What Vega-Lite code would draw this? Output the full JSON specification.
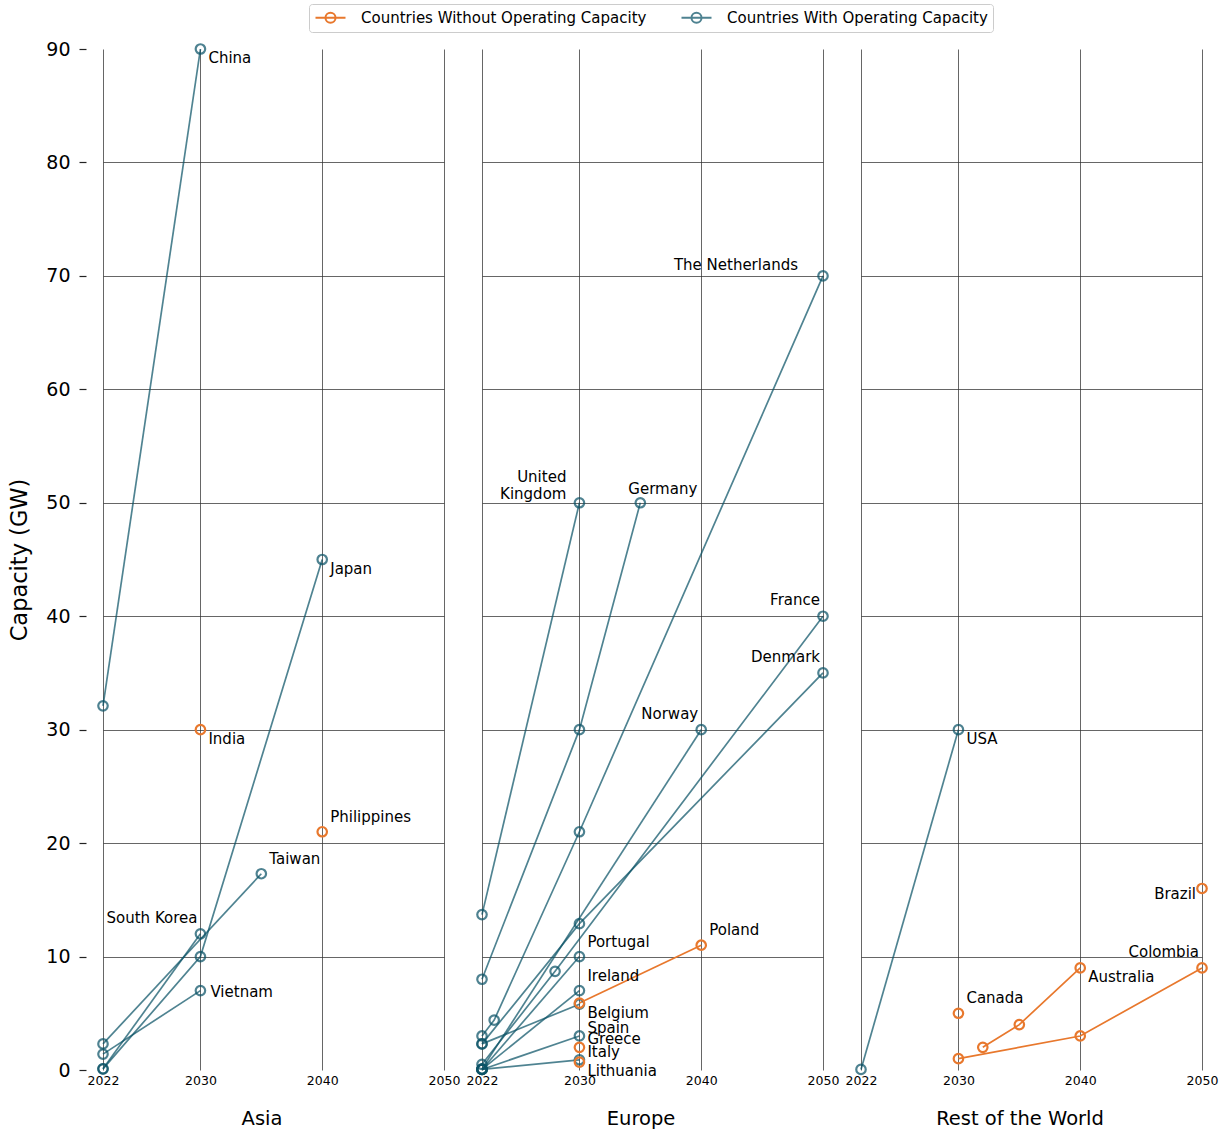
{
  "$schema": "https://vega.github.io/schema/vega-lite/v6.json",
  "background": "white",
  "padding": {"left": 8, "top": 3, "right": 5, "bottom": 5},
  "bounds": "flush",
  "spacing": 38,
  "config": {
    "font": "DejaVu Sans",
    "view": {"stroke": null},
    "text": {"font": "DejaVu Sans", "fontSize": 15, "color": "#000000"},
    "axisX": {
      "labelFontSize": 12.5,
      "labelColor": "#000000",
      "labelFlush": false,
      "labelPadding": 4,
      "ticks": false,
      "domain": false,
      "grid": true,
      "gridColor": "#333333",
      "gridOpacity": 0.75,
      "gridWidth": 1,
      "titleFontSize": 19.5,
      "titleFontWeight": "normal",
      "titleColor": "#000000",
      "titlePadding": 23,
      "titleX": 158.5
    },
    "axisY": {
      "domain": false,
      "grid": true,
      "gridColor": "#333333",
      "gridWidth": 1
    }
  },
  "resolve": {"scale": {"color": "shared", "opacity": "shared"}, "legend": {"color": "shared"}},
  "data": {
    "values": [
      {"region": "Asia", "country": "China", "group": "Countries With Operating Capacity", "year": 2022, "value": 32.1},
      {"region": "Asia", "country": "China", "group": "Countries With Operating Capacity", "year": 2030, "value": 90, "label": "China"},
      {"region": "Asia", "country": "India", "group": "Countries Without Operating Capacity", "year": 2030, "value": 30, "label": "India"},
      {"region": "Asia", "country": "Japan", "group": "Countries With Operating Capacity", "year": 2022, "value": 0.1},
      {"region": "Asia", "country": "Japan", "group": "Countries With Operating Capacity", "year": 2030, "value": 10},
      {"region": "Asia", "country": "Japan", "group": "Countries With Operating Capacity", "year": 2040, "value": 45, "label": "Japan"},
      {"region": "Asia", "country": "Philippines", "group": "Countries Without Operating Capacity", "year": 2040, "value": 21, "label": "Philippines"},
      {"region": "Asia", "country": "Taiwan", "group": "Countries With Operating Capacity", "year": 2022, "value": 2.3},
      {"region": "Asia", "country": "Taiwan", "group": "Countries With Operating Capacity", "year": 2035, "value": 17.3, "label": "Taiwan"},
      {"region": "Asia", "country": "South Korea", "group": "Countries With Operating Capacity", "year": 2022, "value": 0.1},
      {"region": "Asia", "country": "South Korea", "group": "Countries With Operating Capacity", "year": 2030, "value": 12, "label": "South Korea"},
      {"region": "Asia", "country": "Vietnam", "group": "Countries With Operating Capacity", "year": 2022, "value": 1.4},
      {"region": "Asia", "country": "Vietnam", "group": "Countries With Operating Capacity", "year": 2030, "value": 7, "label": "Vietnam"},

      {"region": "Europe", "country": "United Kingdom", "group": "Countries With Operating Capacity", "year": 2022, "value": 13.7},
      {"region": "Europe", "country": "United Kingdom", "group": "Countries With Operating Capacity", "year": 2030, "value": 50, "label": "United Kingdom"},
      {"region": "Europe", "country": "Germany", "group": "Countries With Operating Capacity", "year": 2022, "value": 8},
      {"region": "Europe", "country": "Germany", "group": "Countries With Operating Capacity", "year": 2030, "value": 30},
      {"region": "Europe", "country": "Germany", "group": "Countries With Operating Capacity", "year": 2035, "value": 50, "label": "Germany"},
      {"region": "Europe", "country": "The Netherlands", "group": "Countries With Operating Capacity", "year": 2022, "value": 3},
      {"region": "Europe", "country": "The Netherlands", "group": "Countries With Operating Capacity", "year": 2023, "value": 4.4},
      {"region": "Europe", "country": "The Netherlands", "group": "Countries With Operating Capacity", "year": 2030, "value": 21},
      {"region": "Europe", "country": "The Netherlands", "group": "Countries With Operating Capacity", "year": 2050, "value": 70, "label": "The Netherlands"},
      {"region": "Europe", "country": "France", "group": "Countries With Operating Capacity", "year": 2022, "value": 0.5},
      {"region": "Europe", "country": "France", "group": "Countries With Operating Capacity", "year": 2028, "value": 8.7},
      {"region": "Europe", "country": "France", "group": "Countries With Operating Capacity", "year": 2050, "value": 40, "label": "France"},
      {"region": "Europe", "country": "Denmark", "group": "Countries With Operating Capacity", "year": 2022, "value": 2.3},
      {"region": "Europe", "country": "Denmark", "group": "Countries With Operating Capacity", "year": 2030, "value": 12.9},
      {"region": "Europe", "country": "Denmark", "group": "Countries With Operating Capacity", "year": 2050, "value": 35, "label": "Denmark"},
      {"region": "Europe", "country": "Norway", "group": "Countries With Operating Capacity", "year": 2022, "value": 0.1},
      {"region": "Europe", "country": "Norway", "group": "Countries With Operating Capacity", "year": 2040, "value": 30, "label": "Norway"},
      {"region": "Europe", "country": "Belgium", "group": "Countries With Operating Capacity", "year": 2022, "value": 2.3},
      {"region": "Europe", "country": "Belgium", "group": "Countries With Operating Capacity", "year": 2030, "value": 5.8, "label": "Belgium"},
      {"region": "Europe", "country": "Portugal", "group": "Countries With Operating Capacity", "year": 2022, "value": 0.05},
      {"region": "Europe", "country": "Portugal", "group": "Countries With Operating Capacity", "year": 2030, "value": 10, "label": "Portugal"},
      {"region": "Europe", "country": "Ireland", "group": "Countries With Operating Capacity", "year": 2022, "value": 0.05},
      {"region": "Europe", "country": "Ireland", "group": "Countries With Operating Capacity", "year": 2030, "value": 7, "label": "Ireland"},
      {"region": "Europe", "country": "Spain", "group": "Countries With Operating Capacity", "year": 2022, "value": 0.05},
      {"region": "Europe", "country": "Spain", "group": "Countries With Operating Capacity", "year": 2030, "value": 3, "label": "Spain"},
      {"region": "Europe", "country": "Italy", "group": "Countries With Operating Capacity", "year": 2022, "value": 0.05},
      {"region": "Europe", "country": "Italy", "group": "Countries With Operating Capacity", "year": 2030, "value": 0.9, "label": "Italy"},
      {"region": "Europe", "country": "Poland", "group": "Countries Without Operating Capacity", "year": 2030, "value": 5.9},
      {"region": "Europe", "country": "Poland", "group": "Countries Without Operating Capacity", "year": 2040, "value": 11, "label": "Poland"},
      {"region": "Europe", "country": "Greece", "group": "Countries Without Operating Capacity", "year": 2030, "value": 2, "label": "Greece"},
      {"region": "Europe", "country": "Lithuania", "group": "Countries Without Operating Capacity", "year": 2030, "value": 0.7, "label": "Lithuania"},

      {"region": "Rest of the World", "country": "USA", "group": "Countries With Operating Capacity", "year": 2022, "value": 0.05},
      {"region": "Rest of the World", "country": "USA", "group": "Countries With Operating Capacity", "year": 2030, "value": 30, "label": "USA"},
      {"region": "Rest of the World", "country": "Canada", "group": "Countries Without Operating Capacity", "year": 2030, "value": 5, "label": "Canada"},
      {"region": "Rest of the World", "country": "Australia", "group": "Countries Without Operating Capacity", "year": 2032, "value": 2},
      {"region": "Rest of the World", "country": "Australia", "group": "Countries Without Operating Capacity", "year": 2035, "value": 4},
      {"region": "Rest of the World", "country": "Australia", "group": "Countries Without Operating Capacity", "year": 2040, "value": 9, "label": "Australia"},
      {"region": "Rest of the World", "country": "Colombia", "group": "Countries Without Operating Capacity", "year": 2030, "value": 1},
      {"region": "Rest of the World", "country": "Colombia", "group": "Countries Without Operating Capacity", "year": 2040, "value": 3},
      {"region": "Rest of the World", "country": "Colombia", "group": "Countries Without Operating Capacity", "year": 2050, "value": 9, "label": "Colombia"},
      {"region": "Rest of the World", "country": "Brazil", "group": "Countries Without Operating Capacity", "year": 2050, "value": 16, "label": "Brazil"}
    ]
  },
  "hconcat": [
    {
      "width": 341,
      "height": 1021,
      "transform": [{"filter": "datum.region === 'Asia'"}],
      "encoding": {
        "x": {"field": "year", "type": "quantitative", "scale": {"domain": [2022, 2050], "nice": false, "zero": false}, "axis": {"title": "Asia", "values": [2022, 2030, 2040, 2050], "format": "d"}},
        "y": {
          "field": "value", "type": "quantitative", "scale": {"domain": [0, 90], "nice": false},
          "axis": {
            "values": [0, 10, 20, 30, 40, 50, 60, 70, 80, 90],
            "gridOpacity": {"condition": {"test": "datum.value === 0 || datum.value === 90", "value": 0}, "value": 0.75},
            "title": "Capacity (GW)", "titleFontSize": 22.5, "titleFontWeight": "normal", "titleColor": "#000000", "titlePadding": 14,
            "labelFontSize": 19, "labelColor": "#000000", "labelPadding": 9,
            "ticks": true, "tickSize": 7, "tickColor": "#222222", "tickWidth": 1.2, "offset": 17
          }
        }
      },
      "layer": [
        {
          "mark": {"type": "line", "strokeWidth": 1.7},
          "encoding": {
            "detail": {"field": "country"},
            "color": {
              "field": "group", "type": "nominal",
              "scale": {"domain": ["Countries Without Operating Capacity", "Countries With Operating Capacity"], "range": ["#e8782d", "#0b5367"]},
              "legend": {
                "title": null, "orient": "none", "legendX": 206, "legendY": -45, "direction": "horizontal",
                "strokeColor": "#cccccc", "fillColor": "#ffffff", "padding": 5, "cornerRadius": 3,
                "labelFontSize": 15, "labelFont": "DejaVu Sans", "labelColor": "#000000", "labelLimit": 500,
                "labelOffset": 22, "columnPadding": 30,
                "symbolType": "M-2,0L2,0M0.67,0A0.67,0.67,0,1,1,-0.67,0A0.67,0.67,0,1,1,0.67,0",
                "symbolSize": 225, "symbolOffset": 8, "symbolStrokeWidth": 2, "symbolFillColor": "transparent", "symbolOpacity": 1
              }
            },
            "opacity": {"field": "group", "type": "nominal", "scale": {"domain": ["Countries Without Operating Capacity", "Countries With Operating Capacity"], "range": [1, 0.72]}, "legend": null}
          }
        },
        {
          "mark": {"type": "point", "shape": "circle", "filled": false, "size": 90, "strokeWidth": 2.2},
          "encoding": {"color": {"field": "group", "type": "nominal"}, "opacity": {"field": "group", "type": "nominal", "legend": null}}
        },
        {
          "transform": [{"filter": {"field": "country", "oneOf": ["China", "India", "Japan"]}}, {"filter": "isValid(datum.label)"}],
          "mark": {"type": "text", "align": "left", "baseline": "middle", "dx": 8, "dy": 9},
          "encoding": {"text": {"field": "label"}}
        },
        {
          "transform": [{"filter": {"field": "country", "oneOf": ["Vietnam"]}}, {"filter": "isValid(datum.label)"}],
          "mark": {"type": "text", "align": "left", "baseline": "middle", "dx": 10, "dy": 1},
          "encoding": {"text": {"field": "label"}}
        },
        {
          "transform": [{"filter": {"field": "country", "oneOf": ["Philippines", "Taiwan"]}}, {"filter": "isValid(datum.label)"}],
          "mark": {"type": "text", "align": "left", "baseline": "middle", "dx": 8, "dy": -15},
          "encoding": {"text": {"field": "label"}}
        },
        {
          "transform": [{"filter": {"field": "country", "oneOf": ["South Korea"]}}, {"filter": "isValid(datum.label)"}],
          "mark": {"type": "text", "align": "right", "baseline": "middle", "dx": -3, "dy": -16},
          "encoding": {"text": {"field": "label"}}
        }
      ]
    },
    {
      "width": 341,
      "height": 1021,
      "transform": [{"filter": "datum.region === 'Europe'"}],
      "encoding": {
        "x": {"field": "year", "type": "quantitative", "scale": {"domain": [2022, 2050], "nice": false, "zero": false}, "axis": {"title": "Europe", "values": [2022, 2030, 2040, 2050], "format": "d"}},
        "y": {
          "field": "value", "type": "quantitative", "scale": {"domain": [0, 90], "nice": false},
          "axis": {
            "values": [0, 10, 20, 30, 40, 50, 60, 70, 80, 90],
            "gridOpacity": {"condition": {"test": "datum.value === 0 || datum.value === 90", "value": 0}, "value": 0.75},
            "title": null, "labels": false, "ticks": false
          }
        }
      },
      "layer": [
        {
          "mark": {"type": "line", "strokeWidth": 1.7},
          "encoding": {
            "detail": {"field": "country"},
            "color": {"field": "group", "type": "nominal"},
            "opacity": {"field": "group", "type": "nominal", "legend": null}
          }
        },
        {
          "mark": {"type": "point", "shape": "circle", "filled": false, "size": 90, "strokeWidth": 2.2},
          "encoding": {"color": {"field": "group", "type": "nominal"}, "opacity": {"field": "group", "type": "nominal", "legend": null}}
        },
        {
          "transform": [{"filter": {"field": "country", "oneOf": ["Belgium", "Lithuania"]}}, {"filter": "isValid(datum.label)"}],
          "mark": {"type": "text", "align": "left", "baseline": "middle", "dx": 8, "dy": 9},
          "encoding": {"text": {"field": "label"}}
        },
        {
          "transform": [{"filter": {"field": "country", "oneOf": ["Spain", "Greece", "Italy"]}}, {"filter": "isValid(datum.label)"}],
          "mark": {"type": "text", "align": "left", "baseline": "middle", "dx": 8, "dy": -8},
          "encoding": {"text": {"field": "label"}}
        },
        {
          "transform": [{"filter": {"field": "country", "oneOf": ["Poland", "Portugal", "Ireland"]}}, {"filter": "isValid(datum.label)"}],
          "mark": {"type": "text", "align": "left", "baseline": "middle", "dx": 8, "dy": -15},
          "encoding": {"text": {"field": "label"}}
        },
        {
          "transform": [{"filter": {"field": "country", "oneOf": ["Norway", "France", "Denmark"]}}, {"filter": "isValid(datum.label)"}],
          "mark": {"type": "text", "align": "right", "baseline": "middle", "dx": -3, "dy": -16},
          "encoding": {"text": {"field": "label"}}
        },
        {
          "transform": [{"filter": {"field": "country", "oneOf": ["The Netherlands"]}}, {"filter": "isValid(datum.label)"}],
          "mark": {"type": "text", "align": "right", "baseline": "middle", "dx": -25, "dy": -11},
          "encoding": {"text": {"field": "label"}}
        },
        {
          "transform": [{"filter": {"field": "country", "oneOf": ["Germany"]}}, {"filter": "isValid(datum.label)"}],
          "mark": {"type": "text", "align": "left", "baseline": "middle", "dx": -12, "dy": -14},
          "encoding": {"text": {"field": "label"}}
        },
        {
          "transform": [{"filter": {"field": "country", "oneOf": ["United Kingdom"]}}, {"filter": "isValid(datum.label)"}],
          "mark": {"type": "text", "align": "right", "baseline": "middle", "dx": -13, "dy": -26, "lineBreak": " ", "lineHeight": 17},
          "encoding": {"text": {"field": "label"}}
        }
      ]
    },
    {
      "width": 341,
      "height": 1021,
      "transform": [{"filter": "datum.region === 'Rest of the World'"}],
      "encoding": {
        "x": {"field": "year", "type": "quantitative", "scale": {"domain": [2022, 2050], "nice": false, "zero": false}, "axis": {"title": "Rest of the World", "values": [2022, 2030, 2040, 2050], "format": "d"}},
        "y": {
          "field": "value", "type": "quantitative", "scale": {"domain": [0, 90], "nice": false},
          "axis": {
            "values": [0, 10, 20, 30, 40, 50, 60, 70, 80, 90],
            "gridOpacity": {"condition": {"test": "datum.value === 0 || datum.value === 90", "value": 0}, "value": 0.75},
            "title": null, "labels": false, "ticks": false
          }
        }
      },
      "layer": [
        {
          "mark": {"type": "line", "strokeWidth": 1.7},
          "encoding": {
            "detail": {"field": "country"},
            "color": {"field": "group", "type": "nominal"},
            "opacity": {"field": "group", "type": "nominal", "legend": null}
          }
        },
        {
          "mark": {"type": "point", "shape": "circle", "filled": false, "size": 90, "strokeWidth": 2.2},
          "encoding": {"color": {"field": "group", "type": "nominal"}, "opacity": {"field": "group", "type": "nominal", "legend": null}}
        },
        {
          "transform": [{"filter": {"field": "country", "oneOf": ["USA", "Australia"]}}, {"filter": "isValid(datum.label)"}],
          "mark": {"type": "text", "align": "left", "baseline": "middle", "dx": 8, "dy": 9},
          "encoding": {"text": {"field": "label"}}
        },
        {
          "transform": [{"filter": {"field": "country", "oneOf": ["Canada"]}}, {"filter": "isValid(datum.label)"}],
          "mark": {"type": "text", "align": "left", "baseline": "middle", "dx": 8, "dy": -15},
          "encoding": {"text": {"field": "label"}}
        },
        {
          "transform": [{"filter": {"field": "country", "oneOf": ["Colombia"]}}, {"filter": "isValid(datum.label)"}],
          "mark": {"type": "text", "align": "right", "baseline": "middle", "dx": -3, "dy": -16},
          "encoding": {"text": {"field": "label"}}
        },
        {
          "transform": [{"filter": {"field": "country", "oneOf": ["Brazil"]}}, {"filter": "isValid(datum.label)"}],
          "mark": {"type": "text", "align": "right", "baseline": "middle", "dx": -6, "dy": 6},
          "encoding": {"text": {"field": "label"}}
        }
      ]
    }
  ]
}
